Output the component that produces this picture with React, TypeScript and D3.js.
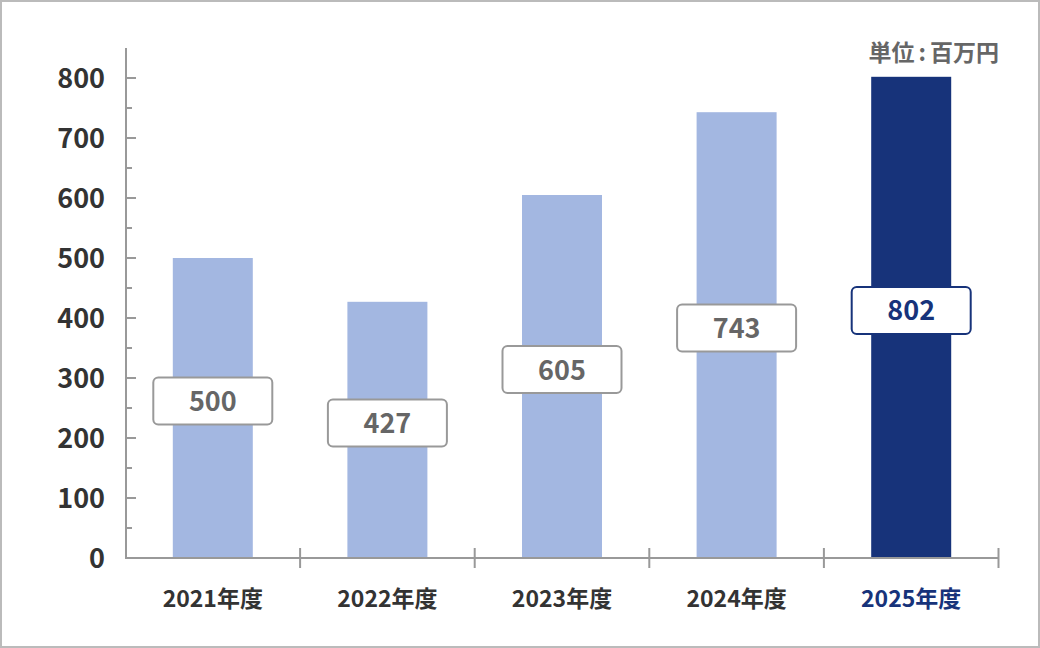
import { useEffect, useRef } from "react";
import * as d3 from "d3";

const categories = ["2021年度", "2022年度", "2023年度", "2024年度", "2025年度"];
const values = [500, 427, 605, 743, 802];
const yTicks = [0, 100, 200, 300, 400, 500, 600, 700, 800];
const yMinorTicks = [50, 150, 250, 350, 450, 550, 650, 750];
const unitParts = ["単位", ":", "百万円"];

const W = 1040;
const H = 648;
const FONT = "'Noto Sans CJK JP', 'Noto Sans', sans-serif";
const LIGHT = "#a3b7e1";
const NAVY = "#17337a";
const AXIS = "#999999";

export default function App() {
  const ref = useRef<SVGSVGElement>(null);

  useEffect(() => {
    const svg = d3.select(ref.current);
    svg.selectAll("*").remove();

    // outer frame
    svg
      .append("rect")
      .attr("x", 1)
      .attr("y", 1)
      .attr("width", W - 2)
      .attr("height", H - 2)
      .attr("fill", "#fff")
      .attr("stroke", "#bbbbbb")
      .attr("stroke-width", 2);

    const x = d3.scaleBand().domain(categories).range([125.5, 998.5]).padding(0);
    const y = d3.scaleLinear().domain([0, 850]).range([558, 48]);
    const isLast = (i: number) => i === categories.length - 1;

    // bars
    svg
      .selectAll(".bar")
      .data(values)
      .join("rect")
      .attr("class", "bar")
      .attr("x", (_, i) => x(categories[i])! + x.bandwidth() / 2 - 40)
      .attr("y", (d) => y(d))
      .attr("width", 80)
      .attr("height", (d) => y(0) - y(d))
      .attr("fill", (_, i) => (isLast(i) ? NAVY : LIGHT));

    // y axis
    const yAxis = svg.append("g");
    yAxis
      .append("line")
      .attr("x1", 126)
      .attr("x2", 126)
      .attr("y1", y(850))
      .attr("y2", y(0))
      .attr("stroke", AXIS)
      .attr("stroke-width", 2);
    yAxis
      .selectAll(".major")
      .data(yTicks.filter((t) => t > 0))
      .join("line")
      .attr("x1", 126)
      .attr("x2", 136)
      .attr("y1", (d) => y(d))
      .attr("y2", (d) => y(d))
      .attr("stroke", AXIS)
      .attr("stroke-width", 2);
    yAxis
      .selectAll(".minor")
      .data(yMinorTicks)
      .join("line")
      .attr("x1", 126)
      .attr("x2", 132)
      .attr("y1", (d) => y(d))
      .attr("y2", (d) => y(d))
      .attr("stroke", AXIS)
      .attr("stroke-width", 2);
    yAxis
      .selectAll(".lbl")
      .data(yTicks)
      .join("text")
      .attr("x", 105)
      .attr("y", (d) => y(d) + 10)
      .attr("text-anchor", "end")
      .attr("font-family", FONT)
      .attr("font-weight", 700)
      .attr("font-size", 27)
      .attr("fill", "#333333")
      .text((d) => d);

    // x axis
    const xAxis = svg.append("g");
    xAxis
      .append("line")
      .attr("x1", 125)
      .attr("x2", 999)
      .attr("y1", y(0))
      .attr("y2", y(0))
      .attr("stroke", AXIS)
      .attr("stroke-width", 2);
    const bounds = categories.slice(1).map((c) => x(c)!).concat([x.range()[1]]);
    xAxis
      .selectAll(".tick")
      .data(bounds)
      .join("line")
      .attr("x1", (d) => d)
      .attr("x2", (d) => d)
      .attr("y1", 548)
      .attr("y2", 568)
      .attr("stroke", AXIS)
      .attr("stroke-width", 2);
    xAxis
      .selectAll(".lbl")
      .data(categories)
      .join("text")
      .attr("x", (d) => x(d)! + x.bandwidth() / 2)
      .attr("y", 607)
      .attr("text-anchor", "middle")
      .attr("font-family", FONT)
      .attr("font-weight", 700)
      .attr("font-size", 23)
      .attr("fill", (_, i) => (isLast(i) ? NAVY : "#333333"))
      .text((d) => d);

    // value boxes
    const boxes = svg
      .selectAll(".box")
      .data(values)
      .join("g")
      .attr("class", "box")
      .attr(
        "transform",
        (d, i) => `translate(${x(categories[i])! + x.bandwidth() / 2},${y(d / 2) - 7})`
      );
    boxes
      .append("rect")
      .attr("x", -59.5)
      .attr("y", -23.5)
      .attr("width", 119)
      .attr("height", 47)
      .attr("rx", 5)
      .attr("fill", "#fff")
      .attr("stroke", (_, i) => (isLast(i) ? NAVY : AXIS))
      .attr("stroke-width", 2);
    boxes
      .append("text")
      .attr("y", 10)
      .attr("text-anchor", "middle")
      .attr("font-family", FONT)
      .attr("font-weight", 700)
      .attr("font-size", 27)
      .attr("fill", (_, i) => (isLast(i) ? NAVY : "#666666"))
      .text((d) => d);

    // unit label
    const unit = svg
      .append("text")
      .attr("x", 999)
      .attr("y", 61)
      .attr("text-anchor", "end")
      .attr("font-family", FONT)
      .attr("font-weight", 700)
      .attr("font-size", 23)
      .attr("fill", "#666666");
    unit.append("tspan").text(unitParts[0]);
    unit.append("tspan").attr("dx", 4).text(unitParts[1]);
    unit.append("tspan").attr("dx", 4).text(unitParts[2]);
  }, []);

  return (
    <svg
      ref={ref}
      width={W}
      height={H}
      style={{ display: "block", position: "absolute", left: 0, top: 0 }}
    />
  );
}
